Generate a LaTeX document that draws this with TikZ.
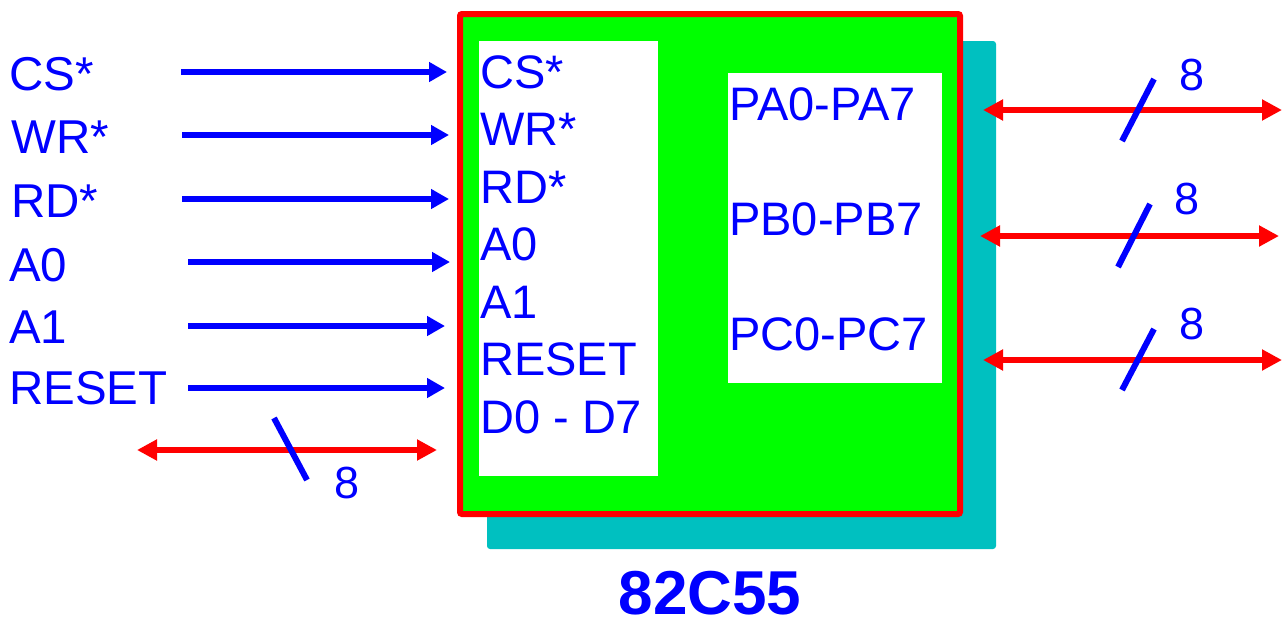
\documentclass[tikz,border=0pt]{standalone}
\usepackage{fontspec}
\setmainfont{Liberation Sans}
\usetikzlibrary{arrows.meta}
\definecolor{myblue}{RGB}{0,0,255}
\definecolor{myred}{RGB}{255,0,0}
\definecolor{mygreen}{RGB}{0,255,0}
\definecolor{mycyan}{RGB}{0,192,192}
\begin{document}
\begin{tikzpicture}[x=1pt,y=-1pt,
  lbl/.style={anchor=base west, inner sep=0pt, text=myblue, font=\fontsize{47.5}{47.5}\selectfont},
  inlbl/.style={lbl, font=\fontsize{47}{47}\selectfont},
  sig/.style={draw=myblue, line width=6pt, -{Triangle[length=18pt,width=19pt]}},
  bus/.style={draw=myred, line width=6pt, {Triangle[length=20pt,width=20pt]}-{Triangle[length=20pt,width=20pt]}},
  slash/.style={draw=myblue, line width=6pt},
  num/.style={text=myblue, inner sep=0pt, font=\fontsize{45}{45}\selectfont}]
\useasboundingbox (0,0) rectangle (1282,621);
% chip
\fill[mycyan, rounded corners=3pt] (487,41) rectangle (996,549);
\draw[myred, line width=6pt, fill=mygreen, rounded corners=2pt] (460,14) rectangle (960,514);
\fill[white] (479,41) rectangle (658,476);
\fill[white] (728,73) rectangle (942,383);
% inner labels
\node[inlbl] (iCS) at (480,88) {CS*};
\node[inlbl] (iWR) at (480,145.5) {WR*};
\node[inlbl] (iRD) at (480,203) {RD*};
\node[inlbl] (iA0) at (480,260.5) {A0};
\node[inlbl] (iA1) at (480,318) {A1};
\node[inlbl] (iRS) at (480,375.5) {RESET};
\node[inlbl] (iD) at (480,433) {D0 - D7};
\node[inlbl] (iPA) at (729,120) {PA0-PA7};
\node[inlbl] (iPB) at (729,235) {PB0-PB7};
\node[inlbl] (iPC) at (729,350) {PC0-PC7};
% left labels
\node[lbl] (CS) at (9,90.5) {CS*};
\node[lbl] (WR) at (11,153) {WR*};
\node[lbl] (RD) at (11,217) {RD*};
\node[lbl] (A0) at (9,281) {A0};
\node[lbl] (A1) at (9,343) {A1};
\node[lbl] (RS) at (9,404) {RESET};
% arrow endpoints
\coordinate (s1) at (181,72); \coordinate (e1) at (447,72);
\coordinate (s2) at (182,135); \coordinate (e2) at (449,135);
\coordinate (s3) at (182,199); \coordinate (e3) at (449,199);
\coordinate (s4) at (188,262); \coordinate (e4) at (450,262);
\coordinate (s5) at (188,326); \coordinate (e5) at (445,326);
\coordinate (s6) at (188,388); \coordinate (e6) at (445,388);
\foreach \i in {1,...,6} {\draw[sig] (s\i) -- (e\i);}
% data bus
\coordinate (dL) at (137,450); \coordinate (dR) at (437,450);
\draw[bus] (dL) -- (dR);
\coordinate (dsa) at (274,418); \coordinate (dsb) at (307,480);
\draw[slash] (dsa) -- (dsb);
\node[num] (d8) at (347,483) {8};
% port buses
\coordinate (aL) at (983,110); \coordinate (aR) at (1282,110);
\coordinate (bL) at (980,236); \coordinate (bR) at (1279,236);
\coordinate (cL) at (983,360); \coordinate (cR) at (1282,360);
\draw[bus] (aL) -- (aR);
\draw[bus] (bL) -- (bR);
\draw[bus] (cL) -- (cR);
\coordinate (a1) at (1122,141); \coordinate (a2) at (1154,79);
\coordinate (b1) at (1118,267); \coordinate (b2) at (1150,204);
\coordinate (c1) at (1122,390); \coordinate (c2) at (1154,329);
\draw[slash] (a1) -- (a2);
\draw[slash] (b1) -- (b2);
\draw[slash] (c1) -- (c2);
\node[num] (a8) at (1192,75) {8};
\node[num] (b8) at (1187,199) {8};
\node[num] (c8) at (1192,324) {8};
% title
\node[anchor=base, inner sep=0pt, text=myblue, font=\fontsize{62}{62}\selectfont\bfseries] (title) at (710,614) {82C55};
\end{tikzpicture}
\end{document}
